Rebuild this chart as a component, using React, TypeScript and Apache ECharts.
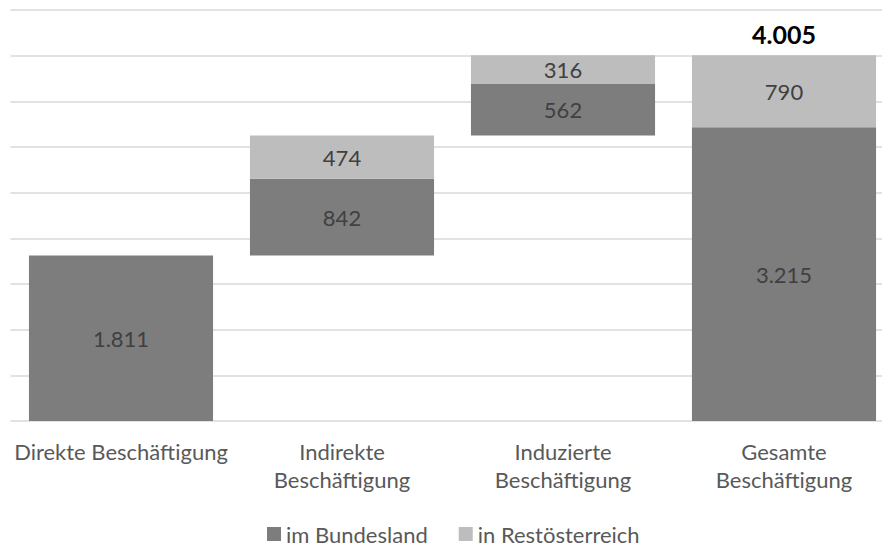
import React, { useEffect, useRef } from "react";
import * as echarts from "echarts";

const categories = [
  "Direkte Beschäftigung",
  "Indirekte\nBeschäftigung",
  "Induzierte\nBeschäftigung",
  "Gesamte\nBeschäftigung",
];
const bundesland = [1811, 842, 562, 3215];
const restoesterreich = [0, 474, 316, 790];
const isTotal = [false, false, false, true];
const seriesNames = ["im Bundesland", "in Restösterreich"];

const fmt = (v: number) => String(v).replace(/\B(?=(\d{3})+(?!\d))/g, ".");

export default function App() {
  const ref = useRef<HTMLDivElement>(null);
  useEffect(() => {
    document.body.style.margin = "0";
    if (!ref.current) return;
    const chart = echarts.init(ref.current, null, { renderer: "svg" });
    const base: number[] = [];
    let cum = 0;
    categories.forEach((_, i) => {
      if (isTotal[i]) {
        base.push(0);
      } else {
        base.push(cum);
        cum += bundesland[i] + restoesterreich[i];
      }
    });
    const font = "Lato, 'Open Sans', sans-serif";
    chart.setOption({
      animation: false,
      grid: {
        left: 10.5,
        top: 10,
        right: -12.5,
        height: 411,
        containLabel: false,
        outerBoundsMode: "none",
      },
      legend: {
        data: seriesNames,
        top: 523,
        left: 267,
        padding: 0,
        itemWidth: 14,
        itemHeight: 14,
        itemGap: 31,
        icon: "rect",
        textStyle: { fontFamily: font, fontSize: 22, color: "#595959", lineHeight: 22 },
      },
      xAxis: {
        type: "category",
        data: categories,
        axisLine: { show: false },
        axisTick: { show: false },
        axisLabel: {
          fontFamily: font,
          fontSize: 22,
          color: "#595959",
          lineHeight: 28,
          margin: 16,
          verticalAlign: "top",
          interval: 0,
          hideOverlap: false,
        },
      },
      yAxis: {
        type: "value",
        min: 0,
        max: 4500,
        interval: 500,
        axisLabel: { show: false },
        axisLine: { show: false },
        axisTick: { show: false },
        splitLine: { lineStyle: { color: "#d9d9d9", width: 1.5 } },
      },
      series: [
        {
          name: "base",
          type: "bar",
          stack: "w",
          data: base,
          itemStyle: { color: "transparent" },
          barCategoryGap: "16.7%",
          silent: true,
        },
        {
          name: seriesNames[0],
          type: "bar",
          stack: "w",
          data: bundesland,
          itemStyle: { color: "#7d7d7d" },
          label: {
            show: true,
            position: "inside",
            formatter: (p: any) => fmt(p.value),
            fontFamily: font,
            fontSize: 22,
            color: "#404040",
          },
        },
        {
          name: seriesNames[1],
          type: "bar",
          stack: "w",
          data: restoesterreich.map((v) => (v ? v : null)),
          itemStyle: { color: "#bdbdbd" },
          label: {
            show: true,
            position: "inside",
            formatter: (p: any) => fmt(p.value),
            fontFamily: font,
            fontSize: 22,
            color: "#404040",
          },
        },
        {
          name: "total",
          type: "bar",
          stack: "w",
          data: categories.map((_, i) =>
            isTotal[i] ? { value: 0, label: { show: true } } : null
          ),
          itemStyle: { color: "transparent" },
          label: {
            show: false,
            position: "top",
            distance: 9,
            formatter: (p: any) =>
              fmt(bundesland[p.dataIndex] + restoesterreich[p.dataIndex]),
            fontFamily: font,
            fontSize: 25,
            fontWeight: "bold",
            color: "#000000",
          },
          silent: true,
        },
      ],
    });
    return () => chart.dispose();
  }, []);
  return <div ref={ref} style={{ width: 882, height: 547 }} />;
}
